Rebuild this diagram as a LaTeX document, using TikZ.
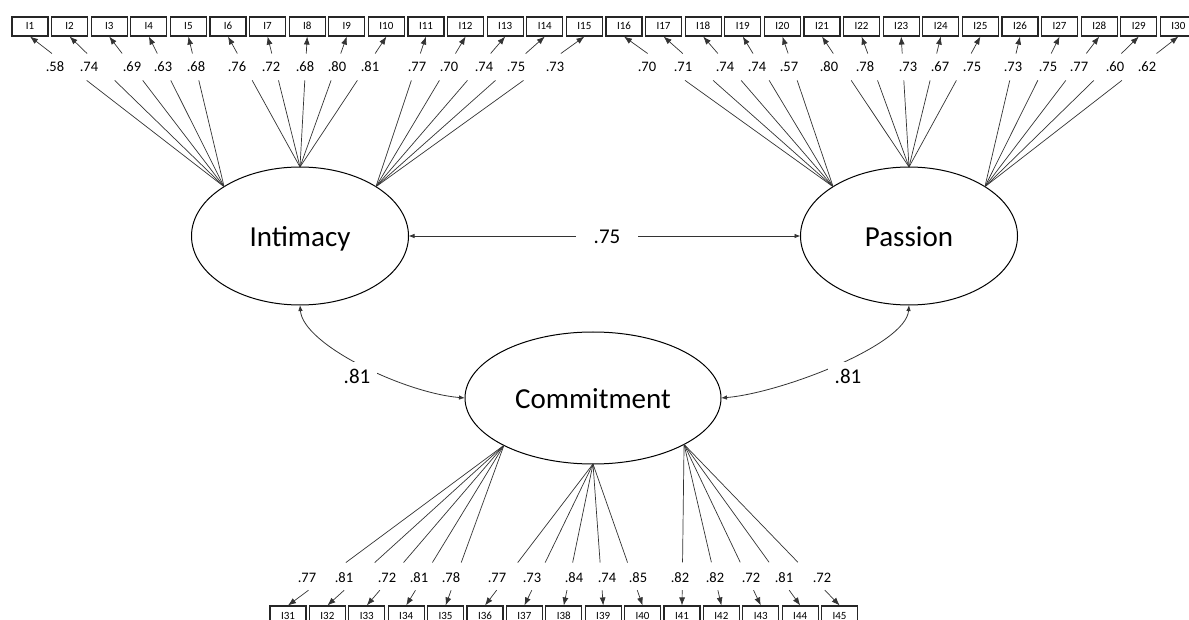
\documentclass[tikz,border=0pt]{standalone}
\usepackage{fontspec}
\setmainfont{Carlito}
\usetikzlibrary{calc,arrows.meta,shapes.geometric}
\tikzset{
  ind/.style={draw=black!85, line width=1.1pt, minimum width=36pt, minimum height=19pt, inner sep=0pt, text height=7pt, text depth=0pt, font=\fontsize{11}{12}\selectfont},
  latent/.style={ellipse, draw=black, line width=1pt, inner sep=0pt, outer sep=0pt, text height=21pt, text depth=0pt, font=\fontsize{29}{34}\selectfont},
  load/.style={draw=black!80, line width=0.7pt},
  loadarr/.style={load, -{Latex[length=8pt,width=6pt]}},
  lab/.style={font=\fontsize{14.5}{16}\selectfont, inner sep=1pt},
  cov/.style={draw=black!80, line width=0.8pt, {Latex[length=6pt,width=4.5pt]}-{Latex[length=6pt,width=4.5pt]}},
  covlab/.style={font=\fontsize{21}{24}\selectfont, fill=white, inner sep=7pt},
}
\begin{document}
\begin{tikzpicture}[x=1pt,y=-1pt]
\useasboundingbox (0,0) rectangle (1189,620);
% latent variables
\node[latent, minimum width=217pt, minimum height=138pt] (Int) at (300,236) {Intimacy};
\node[latent, minimum width=217pt, minimum height=138pt] (Pas) at (909,236) {Passion};
\node[latent, minimum width=256pt, minimum height=132pt] (Com) at (593,398) {Commitment};
% indicators
\foreach \i in {1,...,30} \node[ind] (b\i) at ({30+39.6*(\i-1)},26.5) {I\i};
\foreach \i in {31,...,45} \node[ind] (b\i) at ({288+39.4*(\i-31)},615.5) {I\i};
% loadings, top
\foreach \f/\an/\e/\s in {1/147/0.708/0.887, 6/90/0.664/0.870, 11/33/0.708/0.887} {
  \foreach \j in {0,...,4} {
    \pgfmathtruncatemacro{\k}{\f+\j}
    \draw[load] (Int.\an) -- ($(Int.\an)!\e!(b\k.south)$);
    \draw[loadarr] ($(Int.\an)!\s!(b\k.south)$) -- (b\k.south);
  }
}
\foreach \f/\an/\e/\s in {16/147/0.708/0.887, 21/90/0.664/0.870, 26/33/0.708/0.887} {
  \foreach \j in {0,...,4} {
    \pgfmathtruncatemacro{\k}{\f+\j}
    \draw[load] (Pas.\an) -- ($(Pas.\an)!\e!(b\k.south)$);
    \draw[loadarr] ($(Pas.\an)!\s!(b\k.south)$) -- (b\k.south);
  }
}
% loadings, bottom
\foreach \f/\an/\e/\s in {31/208/0.732/0.905, 36/270/0.697/0.892, 41/333/0.732/0.905} {
  \foreach \j in {0,...,4} {
    \pgfmathtruncatemacro{\k}{\f+\j}
    \draw[load] (Com.\an) -- ($(Com.\an)!\e!(b\k.north)$);
    \draw[loadarr] ($(Com.\an)!\s!(b\k.north)$) -- (b\k.north);
  }
}
% loading labels
\foreach \x/\v [count=\k] in {55/.58, 89/.74, 132/.69, 163/.63, 196/.68, 237/.76, 271/.72, 305/.68, 337/.80, 370/.81, 417/.77, 449/.70, 484/.74, 516/.75, 555/.73,
  647/.70, 683/.71, 725/.74, 757/.74, 789/.57, 829/.80, 865/.78, 908/.73, 940/.67, 972/.75, 1013/.73, 1048/.75, 1079/.77, 1115/.60, 1147/.62}
  \node[lab] (t\k) at (\x,67) {\v};
\foreach \x/\v [count=\k] in {307/.77, 344/.81, 387/.72, 419/.81, 451/.78, 497/.77, 532/.73, 574/.84, 607/.74, 638/.85, 680/.82, 715/.82, 751/.72, 784/.81, 822/.72}
  \node[lab] (u\k) at (\x,578) {\v};
% correlations
\draw[cov] (Int.east) -- (Pas.west);
\node[covlab, inner xsep=18pt] (c1) at (607,237) {.75};
\draw[cov] (Int.south) .. controls (303,345) and (405,393) .. (Com.west);
\node[covlab] (c2) at (357,376) {.81};
\draw[cov] (Pas.south) .. controls (906,345) and (781,393) .. (Com.east);
\node[covlab] (c3) at (848,376) {.81};
\end{tikzpicture}
\end{document}
